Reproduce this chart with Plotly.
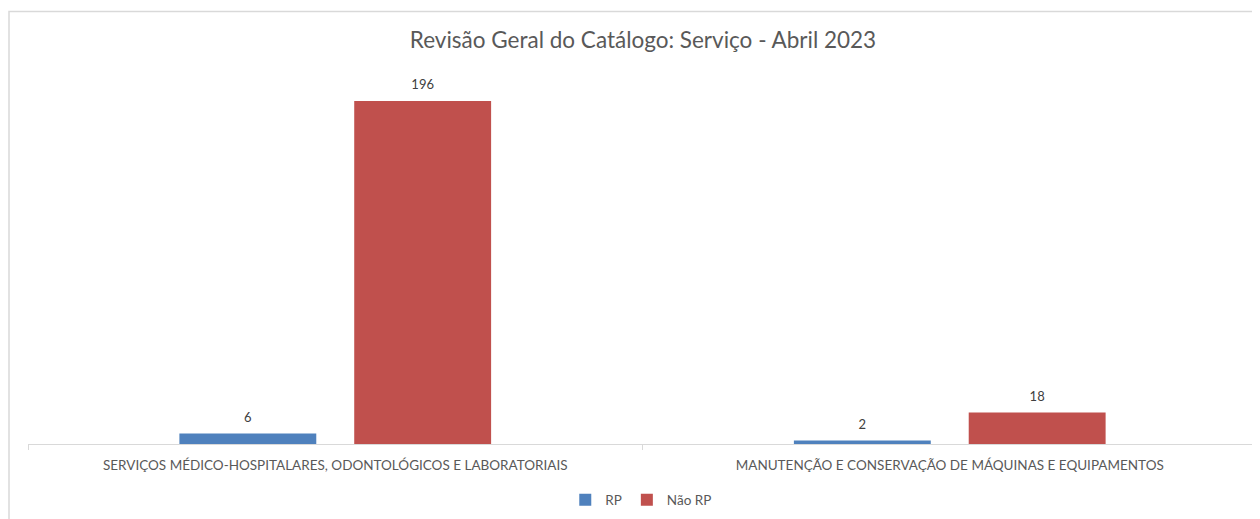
import plotly.graph_objects as go

categories = [
    "SERVIÇOS MÉDICO-HOSPITALARES, ODONTOLÓGICOS E LABORATORIAIS",
    "MANUTENÇÃO E CONSERVAÇÃO DE MÁQUINAS E EQUIPAMENTOS",
]
rp_values = [6, 2]
nao_rp_values = [196, 18]
series_names = ["RP", "Não RP"]
title_text = "Revisão Geral do Catálogo: Serviço - Abril 2023"

FONT = "Lato, 'Open Sans', sans-serif"
BLUE = "#4F81BD"
RED = "#C0504D"

# page body has an 8px margin: compensate in the figure margins
OFF = 8
W, H = 1260, 519
L, R, T, B = 28 - OFF, W - (1257 - OFF), 59 - OFF, H - (444 - OFF)
PW, PH = W - L - R, H - T - B

fig = go.Figure()
series = [(series_names[0], rp_values, BLUE, "a"), (series_names[1], nao_rp_values, RED, "b")]
for name, vals, color, grp in series:
    fig.add_trace(go.Bar(
        x=categories, y=vals, name=name, offsetgroup=grp,
        marker=dict(color=color, line=dict(width=0)),
        hoverinfo="x+y+name",
    ))
for name, vals, color, grp in series:
    fig.add_trace(go.Scatter(
        x=categories, y=vals, name=name + " rótulos", offsetgroup=grp,
        mode="markers+text", text=[str(v) for v in vals], textposition="top center",
        marker=dict(size=12, color="rgba(0,0,0,0)"),
        textfont=dict(family=FONT, size=13, color="#404040"),
        showlegend=False, hoverinfo="skip", cliponaxis=False,
    ))

fig.update_layout(
    width=W, height=H,
    margin=dict(l=L, r=R, t=T, b=B),
    paper_bgcolor="white", plot_bgcolor="white",
    barmode="group", scattermode="group", bargap=0.431, bargroupgap=0.217,
    title=dict(text=title_text, x=(643 - OFF) / W, xanchor="center",
               y=1 - (40 - OFF) / H, yanchor="middle",
               yref="container", font=dict(family=FONT, size=22.5, color="#595959")),
    font=dict(family=FONT, color="#595959"),
    showlegend=True,
    legend=dict(orientation="h", x=0.499, xanchor="center", y=-(500 - 444) / PH, yanchor="middle",
                font=dict(family=FONT, size=13.5, color="#595959"), traceorder="normal",
                itemwidth=30),
    xaxis=dict(showline=True, linecolor="#D9D9D9", linewidth=1, ticks="outside", tickson="boundaries",
               ticklen=5, tickcolor="#D9D9D9", tickfont=dict(family=FONT, size=13.5, color="#595959"),
               ticklabelstandoff=9, showgrid=False, zeroline=False),
    yaxis=dict(range=[0, 220], visible=False, showgrid=False, zeroline=False),
    shapes=[dict(type="rect", xref="paper", yref="paper", x0=(9 - 28) / PW, x1=1.05,
                 y0=-0.5, y1=1 + (59 - 11.5) / PH, line=dict(color="#D9D9D9", width=1.5),
                 fillcolor="rgba(0,0,0,0)", layer="below")],
)

fig.write_html("out.html")
